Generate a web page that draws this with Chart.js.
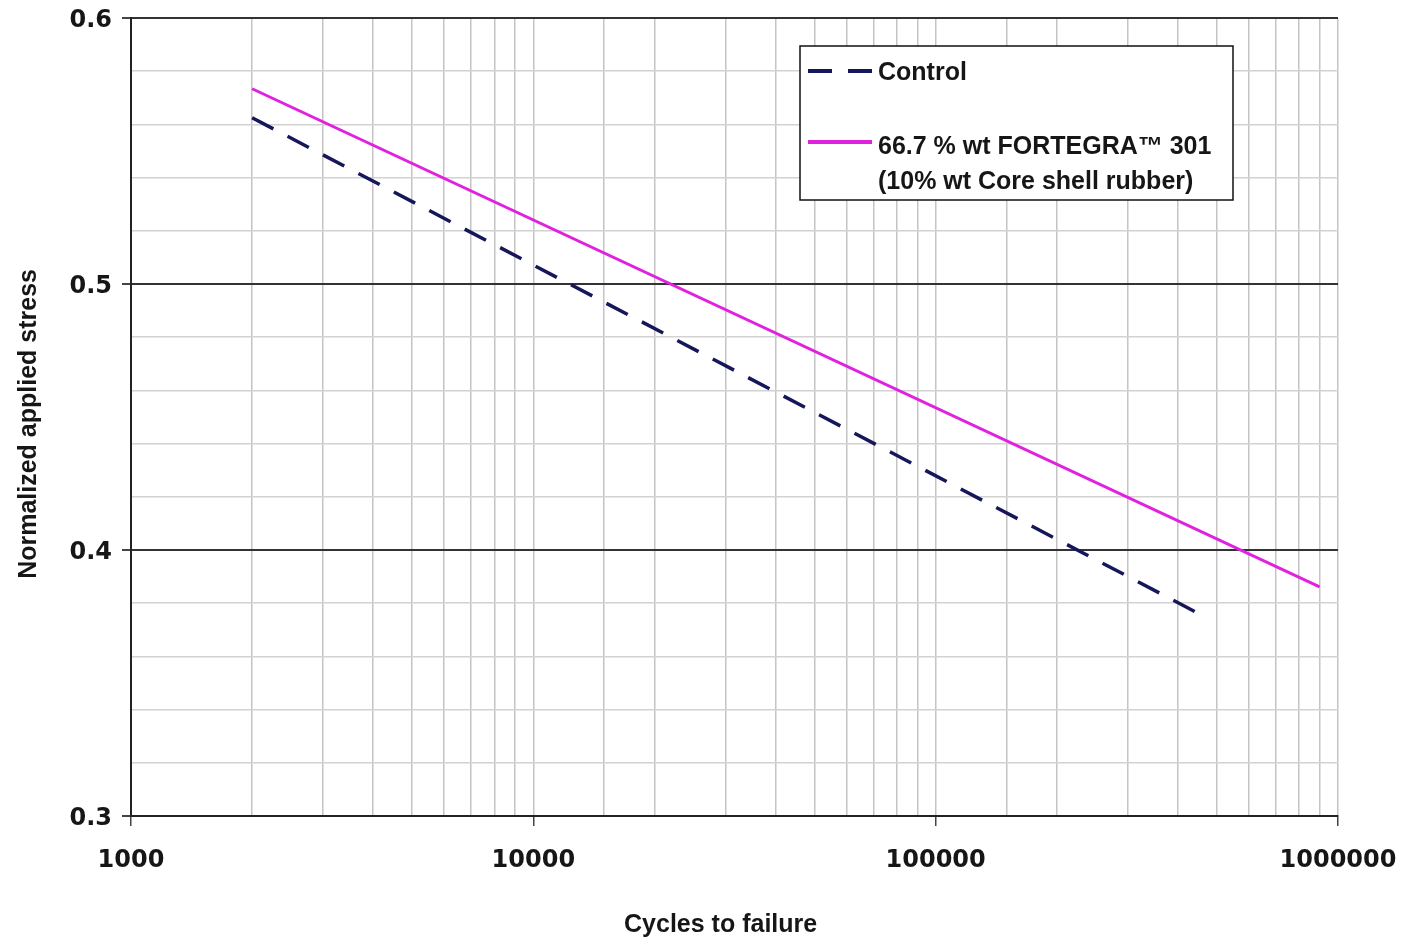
<!DOCTYPE html>
<html>
<head>
<meta charset="utf-8">
<script src="https://cdn.jsdelivr.net/npm/chart.js@4"></script>
<style>
  html, body { margin: 0; padding: 0; background: #fff; }
  canvas { display: block; }
</style>
</head>
<body>
<canvas id="myChart" width="1408" height="938"></canvas>
<script>
// fitted S-N lines (endpoints of each line)
const controlCycles = [2000, 468000];
const controlStress = [0.5625, 0.3748];
const fortegraCycles = [2000, 900000];
const fortegraStress = [0.5734, 0.3861];

const seriesLabels = ['Control', ['66.7 % wt FORTEGRA\u2122 301', '(10% wt Core shell rubber)']];
const xTickLabels = [1000, 10000, 100000, 1000000];
const yTickLabels = [0.3, 0.4, 0.5, 0.6];

const toPoints = (xs, ys) => xs.map((x, i) => ({ x: x, y: ys[i] }));

const isDecade = v => xTickLabels.includes(v);
const isMajorY = v => yTickLabels.some(t => Math.abs(t - v) < 1e-6);

const FONT = "'Liberation Sans', Arial, sans-serif";
const TICKFONT = "'DejaVu Sans', sans-serif";

// legend box drawn inside the plot area, like the original
const boxLegend = {
    id: 'boxLegend',
    afterDraw(chart) {
        const { ctx } = chart;
        const x0 = 800, y0 = 46, w = 433, h = 154;
        ctx.save();
        ctx.fillStyle = '#fff';
        ctx.fillRect(x0, y0, w, h);
        ctx.strokeStyle = '#111';
        ctx.lineWidth = 1.5;
        ctx.strokeRect(x0, y0, w, h);

        ctx.font = 'bold 25px ' + FONT;
        ctx.fillStyle = '#161616';
        ctx.textBaseline = 'middle';
        const rows = [71, 142];
        chart.data.datasets.forEach((ds, i) => {
            const y = rows[i];
            ctx.beginPath();
            ctx.strokeStyle = ds.borderColor;
            ctx.lineWidth = 4;
            ctx.setLineDash(ds.borderDash || []);
            ctx.moveTo(808, y);
            ctx.lineTo(872, y);
            ctx.stroke();
            ctx.setLineDash([]);
            const lines = Array.isArray(ds.label) ? ds.label : [ds.label];
            lines.forEach((t, j) => ctx.fillText(t, 878, y + 2 + i * 3 + j * 35));
        });
        ctx.restore();
    }
};

const ctx = document.getElementById('myChart').getContext('2d');
const myChart = new Chart(ctx, {
    type: 'line',
    data: {
        datasets: [{
            label: seriesLabels[0],
            data: toPoints(controlCycles, controlStress),
            borderColor: '#16165a',
            borderWidth: 3.5,
            borderDash: [24, 16],
            pointRadius: 0,
            fill: false
        },
        {
            label: seriesLabels[1],
            data: toPoints(fortegraCycles, fortegraStress),
            borderColor: '#e022e0',
            borderWidth: 3,
            pointRadius: 0,
            fill: false
        }]
    },
    options: {
        responsive: false,
        animation: false,
        layout: {
            padding: { left: 0, top: 18, right: 70, bottom: 0 }
        },
        plugins: {
            legend: { display: false },
            tooltip: { enabled: false }
        },
        scales: {
            x: {
                type: 'logarithmic',
                min: 1000,
                max: 1000000,
                border: { color: '#222', width: 2 },
                grid: {
                    color: '#c4c4c4',
                    lineWidth: 1.5,
                    tickLength: 10,
                    tickColor: c => isDecade(c.tick.value) ? '#444' : 'rgba(0,0,0,0)'
                },
                ticks: {
                    autoSkip: false,
                    maxRotation: 0,
                    padding: 20,
                    color: '#161616',
                    font: { family: TICKFONT, size: 24, weight: 'bold' },
                    callback: v => isDecade(v) ? String(v) : ''
                },
                title: {
                    display: true,
                    // trailing spaces nudge the title a little left, as in the original
                    text: 'Cycles to failure    ',
                    color: '#161616',
                    font: { family: FONT, size: 25, weight: 'bold' },
                    padding: { top: 0, bottom: -2 }
                },
                afterFit: s => { s.height = 122; s.paddingLeft = 0; s.paddingRight = 0; }
            },
            y: {
                min: 0.3,
                max: 0.6,
                border: { color: '#222', width: 2 },
                grid: {
                    color: c => isMajorY(c.tick.value) ? '#333' : '#d2d2d2',
                    lineWidth: c => isMajorY(c.tick.value) ? 2 : 1.5,
                    tickLength: 9,
                    tickColor: c => isMajorY(c.tick.value) ? '#444' : 'rgba(0,0,0,0)'
                },
                ticks: {
                    stepSize: 0.02,
                    autoSkip: false,
                    padding: 10,
                    labelOffset: 3,
                    color: '#161616',
                    font: { family: TICKFONT, size: 24, weight: 'bold' },
                    callback: v => isMajorY(v) ? Number(v).toFixed(1) : ''
                },
                title: {
                    display: true,
                    text: 'Normalized applied stress  ',
                    color: '#161616',
                    font: { family: FONT, size: 25, weight: 'bold' },
                    padding: { top: 14, bottom: 0 }
                },
                afterFit: s => { s.width = 131; s.paddingTop = 0; s.paddingBottom = 0; }
            }
        }
    },
    plugins: [boxLegend]
});
</script>
</body>
</html>
